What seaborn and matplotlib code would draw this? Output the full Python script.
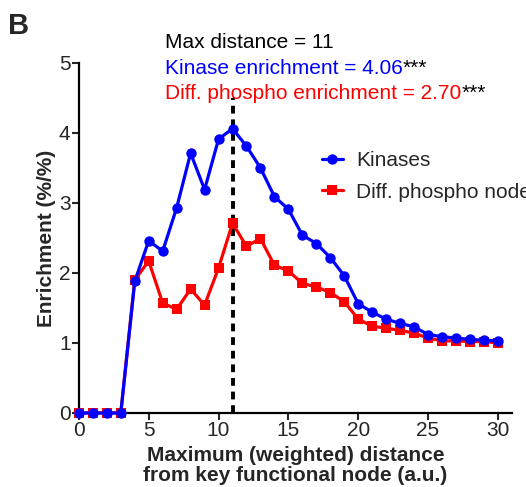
import numpy as np
import pandas as pd
import matplotlib
matplotlib.use("Agg")
import matplotlib.pyplot as plt
import seaborn as sns

distance = list(range(0, 31))
kinases = [0, 0, 0, 0, 1.88, 2.46, 2.31, 2.93, 3.71, 3.19, 3.91, 4.06, 3.81, 3.50, 3.09,
           2.91, 2.54, 2.42, 2.22, 1.96, 1.56, 1.44, 1.34, 1.28, 1.23, 1.12, 1.09, 1.07,
           1.05, 1.04, 1.03]
phospho = [0, 0, 0, 0, 1.90, 2.17, 1.57, 1.48, 1.77, 1.54, 2.07, 2.71, 2.38, 2.49, 2.11,
           2.03, 1.85, 1.80, 1.72, 1.59, 1.34, 1.24, 1.21, 1.18, 1.14, 1.07, 1.03, 1.03,
           1.02, 1.02, 1.00]
series_names = ["Kinases", "Diff. phospho nodes"]
max_distance = 11
kinase_enrich = "4.06"
phospho_enrich = "2.70"
x_ticks = [0, 5, 10, 15, 20, 25, 30]
y_ticks = [0, 1, 2, 3, 4, 5]

df = pd.DataFrame({
    "distance": distance * 2,
    "enrichment": kinases + phospho,
    "series": [series_names[0]] * len(distance) + [series_names[1]] * len(distance),
})

sns.set_theme(style="ticks")
plt.rcParams["font.family"] = ["Liberation Sans", "DejaVu Sans"]

fig = plt.figure(figsize=(5.26, 4.87), dpi=100)
ax = fig.add_axes([0.150, 0.152, 0.823, 0.719])

blue = "#0000ff"
red = "#ff0000"

# draw red first so blue sits on top at zeros
sns.lineplot(data=df[df.series == series_names[1]], x="distance", y="enrichment",
             color=red, marker="s", markersize=7, markeredgewidth=0, linewidth=2.3,
             ax=ax, label=series_names[1], clip_on=False, zorder=3)
sns.lineplot(data=df[df.series == series_names[0]], x="distance", y="enrichment",
             color=blue, marker="o", markersize=7.5, markeredgewidth=0, linewidth=2.3,
             ax=ax, label=series_names[0], clip_on=False, zorder=4)

ax.vlines(max_distance, 0, 4.5, colors="black", linestyles=(0, (2.0, 1.5)), linewidth=2.8, zorder=2)

ax.set_xlim(0, 31)
ax.set_ylim(0, 5)
ax.set_xticks(x_ticks)
ax.set_yticks(y_ticks)
ax.tick_params(axis="both", labelsize=15, width=1.5, length=5, direction="out", pad=1)
for s in ["top", "right"]:
    ax.spines[s].set_visible(False)
for s in ["left", "bottom"]:
    ax.spines[s].set_linewidth(1.6)
    ax.spines[s].set_color("black")

ax.set_xlabel("Maximum (weighted) distance\nfrom key functional node (a.u.)",
              fontsize=15, fontweight="bold", linespacing=1.05, labelpad=4)
ax.set_ylabel("Enrichment (%/%)", fontsize=15, fontweight="bold", labelpad=2)

handles, labels = ax.get_legend_handles_labels()
order = [labels.index(n) for n in series_names]
ax.legend([handles[i] for i in order], [labels[i] for i in order],
          loc="upper left", bbox_to_anchor=(0.561, 0.748), frameon=False,
          fontsize=15, handlelength=1.0, handletextpad=0.65, labelspacing=0.6,
          borderpad=0, borderaxespad=0)

fig.text(0.015, 0.975, "B", fontsize=21, fontweight="bold", va="top", ha="left")
fig.text(0.314, 0.912, f"Max distance = {max_distance}", fontsize=15, color="black", va="center")
t1 = fig.text(0.314, 0.860, f"Kinase enrichment = {kinase_enrich}", fontsize=15, color=blue, va="center")
t2 = fig.text(0.314, 0.809, f"Diff. phospho enrichment = {phospho_enrich}", fontsize=15, color=red, va="center")
for t in (t1, t2):
    ax.annotate("***", xy=(1, 0), xycoords=t, fontsize=15, color="black",
                va="bottom", ha="left", annotation_clip=False)

fig.savefig("out.png", dpi=100)
